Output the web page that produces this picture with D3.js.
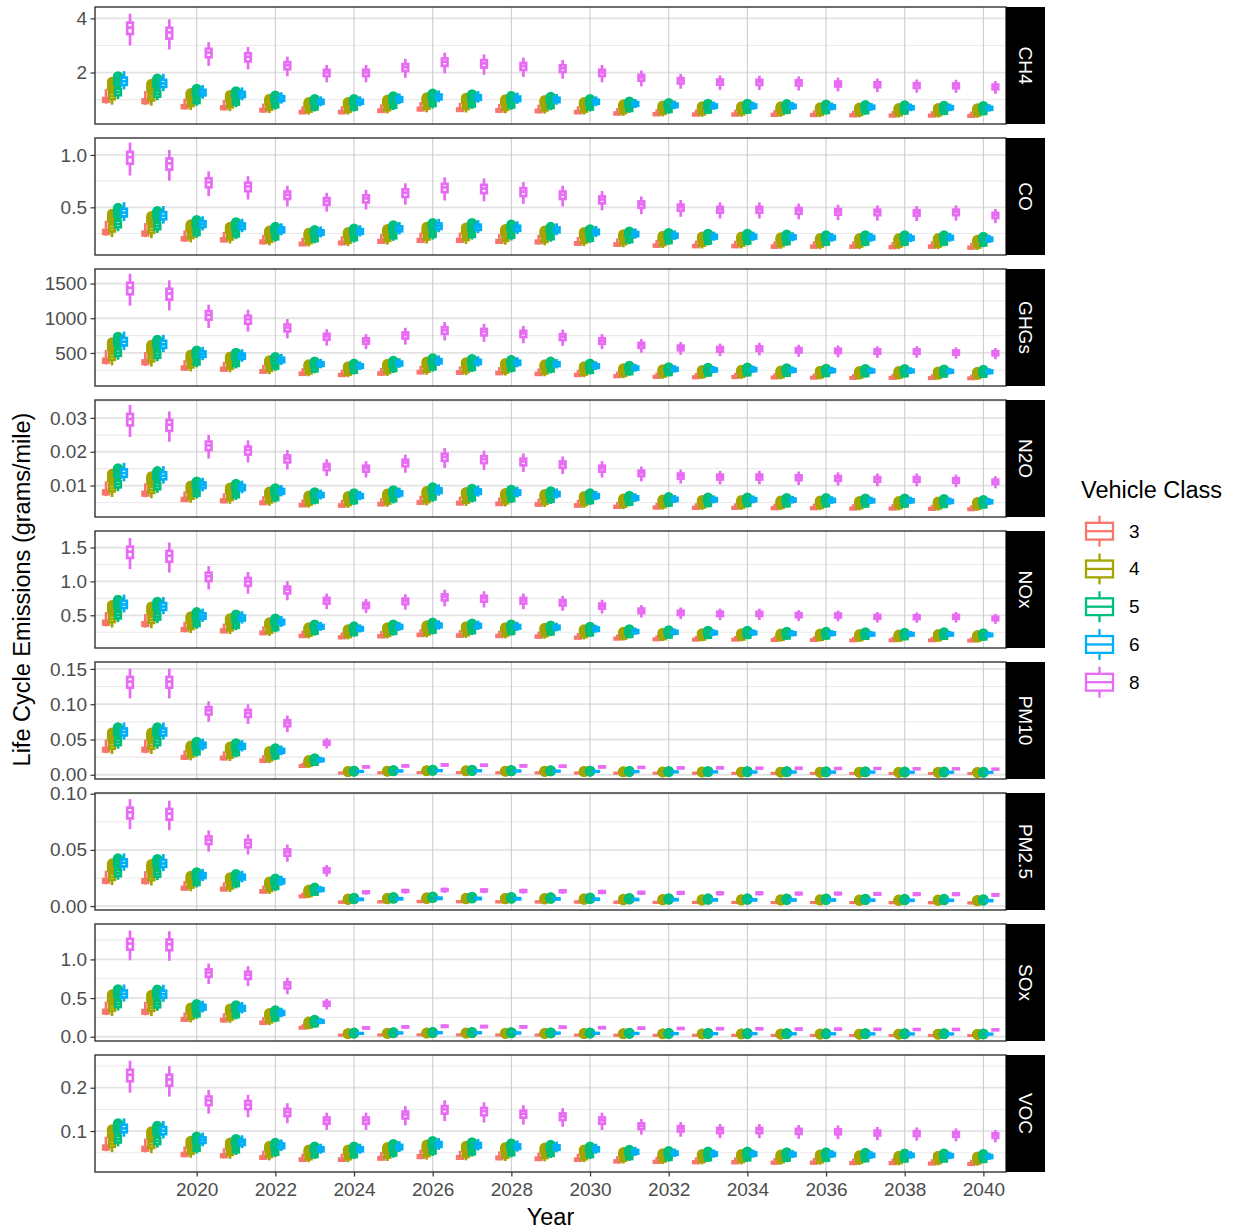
<!DOCTYPE html>
<html><head><meta charset="utf-8">
<script src="https://cdn.jsdelivr.net/npm/d3@7"></script>
<style>
body{margin:0;background:#fff}
text{font-family:"Liberation Sans",Arial,Helvetica,sans-serif}
</style>
</head><body>
<svg id="chart" width="1233" height="1230"></svg>
<script>
// ---------------- DATA ----------------
const years = [2018,2019,2020,2021,2022,2023,2024,2025,2026,2027,2028,2029,2030,2031,2032,2033,2034,2035,2036,2037,2038,2039,2040];
const classes = ["3","4","5","6","8"];
const pollutants = ["CH4","CO","GHGs","N2O","NOx","PM10","PM2.5","SOx","VOC"];
const xTicks = [2020,2022,2024,2026,2028,2030,2032,2034,2036,2038,2040];

// medians per vehicle class per year
const CH4_3 = [0.99,0.94,0.74,0.70,0.61,0.54,0.54,0.59,0.65,0.63,0.60,0.58,0.54,0.49,0.46,0.45,0.45,0.44,0.43,0.42,0.41,0.41,0.40];
const CH4_4 = [1.13,1.08,0.85,0.80,0.70,0.62,0.62,0.68,0.74,0.73,0.69,0.67,0.62,0.56,0.53,0.51,0.51,0.51,0.49,0.48,0.47,0.47,0.46];
const CH4_5 = [1.28,1.22,0.96,0.90,0.79,0.70,0.70,0.77,0.84,0.82,0.78,0.76,0.70,0.64,0.60,0.58,0.58,0.57,0.56,0.55,0.54,0.53,0.52];
const CH4_6 = [1.68,1.60,1.26,1.19,1.04,0.92,0.92,1.01,1.10,1.08,1.03,0.99,0.92,0.84,0.79,0.76,0.76,0.75,0.73,0.72,0.70,0.70,0.68];
const CH4_8 = [3.66,3.48,2.74,2.58,2.27,2.00,2.00,2.20,2.40,2.34,2.24,2.16,2.00,1.82,1.71,1.66,1.65,1.63,1.59,1.56,1.53,1.52,1.48];

const CO_3 = [0.265,0.25,0.20,0.19,0.17,0.15,0.16,0.175,0.185,0.185,0.175,0.17,0.155,0.145,0.135,0.13,0.13,0.125,0.125,0.125,0.12,0.125,0.115];
const CO_4 = [0.30,0.285,0.23,0.215,0.19,0.175,0.18,0.20,0.215,0.21,0.20,0.19,0.18,0.165,0.155,0.15,0.15,0.145,0.14,0.14,0.14,0.14,0.13];
const CO_5 = [0.34,0.32,0.26,0.245,0.215,0.195,0.205,0.225,0.24,0.24,0.23,0.215,0.20,0.185,0.175,0.17,0.17,0.165,0.16,0.16,0.16,0.16,0.15];
const CO_6 = [0.45,0.42,0.34,0.32,0.285,0.26,0.27,0.295,0.32,0.31,0.30,0.285,0.265,0.245,0.23,0.22,0.22,0.215,0.21,0.21,0.205,0.21,0.195];
const CO_8 = [0.98,0.92,0.74,0.70,0.62,0.56,0.585,0.64,0.69,0.68,0.65,0.62,0.575,0.53,0.50,0.48,0.48,0.47,0.46,0.455,0.45,0.455,0.425];

const GHGs_3 = [389,366,283,266,234,200,183,204,224,218,211,198,183,166,156,150,153,147,144,141,141,138,135];
const GHGs_4 = [446,421,325,306,269,229,210,235,257,250,242,228,210,190,179,173,176,168,166,162,162,158,155];
const GHGs_5 = [504,475,367,345,303,259,237,265,290,282,273,257,237,215,202,195,198,190,187,183,183,179,175];
const GHGs_6 = [662,624,483,454,399,340,311,348,381,371,359,338,311,282,265,256,261,250,246,241,241,235,230];
const GHGs_8 = [1440,1357,1049,986,867,739,677,757,829,806,781,734,677,614,577,557,567,543,534,524,524,510,500];

const N2O_3 = [0.0080,0.0076,0.0059,0.0055,0.0049,0.0042,0.0041,0.0045,0.0050,0.0048,0.0046,0.0044,0.0041,0.0037,0.0035,0.0034,0.0034,0.0033,0.0033,0.0032,0.0032,0.0031,0.0030];
const N2O_4 = [0.0092,0.0087,0.0068,0.0064,0.0056,0.0048,0.0047,0.0052,0.0057,0.0055,0.0053,0.0051,0.0047,0.0042,0.0040,0.0039,0.0039,0.0038,0.0038,0.0037,0.0037,0.0036,0.0035];
const N2O_5 = [0.0104,0.0098,0.0077,0.0072,0.0063,0.0055,0.0053,0.0059,0.0065,0.0062,0.0060,0.0057,0.0053,0.0048,0.0045,0.0044,0.0044,0.0043,0.0043,0.0042,0.0042,0.0041,0.0039];
const N2O_6 = [0.0137,0.0129,0.0101,0.0094,0.0083,0.0072,0.0069,0.0077,0.0085,0.0082,0.0079,0.0075,0.0069,0.0063,0.0059,0.0058,0.0058,0.0057,0.0056,0.0055,0.0055,0.0053,0.0052];
const N2O_8 = [0.0297,0.0280,0.0219,0.0205,0.0180,0.0156,0.0151,0.0168,0.0185,0.0178,0.0171,0.0163,0.0151,0.0137,0.0129,0.0126,0.0126,0.0124,0.0122,0.0119,0.0119,0.0116,0.0112];

const NOx_3 = [0.39,0.37,0.29,0.27,0.24,0.195,0.175,0.19,0.21,0.20,0.195,0.185,0.17,0.155,0.145,0.14,0.14,0.135,0.135,0.13,0.13,0.13,0.125];
const NOx_4 = [0.445,0.43,0.33,0.31,0.27,0.22,0.20,0.22,0.24,0.23,0.22,0.215,0.20,0.175,0.165,0.16,0.16,0.155,0.155,0.15,0.145,0.15,0.14];
const NOx_5 = [0.50,0.48,0.375,0.35,0.31,0.25,0.23,0.25,0.27,0.26,0.25,0.24,0.225,0.20,0.19,0.185,0.185,0.175,0.175,0.17,0.165,0.17,0.16];
const NOx_6 = [0.66,0.63,0.49,0.46,0.40,0.33,0.30,0.33,0.35,0.345,0.33,0.32,0.295,0.26,0.25,0.24,0.24,0.23,0.23,0.22,0.22,0.22,0.21];
const NOx_8 = [1.44,1.38,1.075,1.0,0.88,0.72,0.65,0.71,0.77,0.75,0.72,0.69,0.64,0.57,0.54,0.525,0.525,0.505,0.5,0.48,0.475,0.48,0.456];

const PM10_3 = [0.0356,0.0356,0.0247,0.0237,0.0199,0.0123,0.0025,0.0028,0.0031,0.0030,0.0028,0.0027,0.0025,0.0023,0.0022,0.0022,0.0021,0.0021,0.0020,0.0020,0.0019,0.0019,0.0018];
const PM10_4 = [0.0409,0.0409,0.0283,0.0272,0.0228,0.0141,0.0034,0.0038,0.0042,0.0041,0.0038,0.0037,0.0034,0.0031,0.0029,0.0029,0.0028,0.0028,0.0027,0.0027,0.0026,0.0026,0.0024];
const PM10_5 = [0.0462,0.0462,0.0320,0.0307,0.0258,0.0159,0.0038,0.0043,0.0048,0.0046,0.0043,0.0041,0.0038,0.0035,0.0033,0.0033,0.0032,0.0032,0.0031,0.0031,0.0029,0.0029,0.0027];
const PM10_6 = [0.0607,0.0607,0.0420,0.0403,0.0339,0.0209,0.0047,0.0053,0.0059,0.0057,0.0053,0.0051,0.0047,0.0044,0.0041,0.0041,0.0039,0.0039,0.0038,0.0038,0.0036,0.0036,0.0034];
const PM10_8 = [0.132,0.132,0.0913,0.0876,0.0736,0.0455,0.0112,0.0126,0.0140,0.0136,0.0126,0.0122,0.0112,0.0104,0.0098,0.0098,0.0094,0.0094,0.0090,0.0090,0.0085,0.0085,0.0080];

const PM25_3 = [0.0225,0.0222,0.0159,0.0151,0.0130,0.0086,0.0035,0.0038,0.0040,0.0039,0.0038,0.0037,0.0036,0.0034,0.0033,0.0032,0.0032,0.0031,0.0031,0.0031,0.0030,0.0030,0.0028];
const PM25_4 = [0.0259,0.0255,0.0183,0.0174,0.0149,0.0099,0.0045,0.0049,0.0052,0.0050,0.0049,0.0048,0.0046,0.0043,0.0042,0.0041,0.0041,0.0040,0.0040,0.0039,0.0039,0.0039,0.0036];
const PM25_5 = [0.0292,0.0288,0.0207,0.0196,0.0168,0.0112,0.0050,0.0054,0.0058,0.0056,0.0054,0.0053,0.0051,0.0048,0.0047,0.0046,0.0046,0.0045,0.0045,0.0044,0.0043,0.0043,0.0040];
const PM25_6 = [0.0384,0.0379,0.0271,0.0258,0.0221,0.0147,0.0060,0.0065,0.0069,0.0067,0.0065,0.0064,0.0061,0.0058,0.0057,0.0055,0.0055,0.0054,0.0054,0.0052,0.0051,0.0051,0.0048];
const PM25_8 = [0.0834,0.0823,0.0590,0.0560,0.0480,0.0320,0.0124,0.0135,0.0144,0.0140,0.0135,0.0133,0.0127,0.0120,0.0118,0.0115,0.0115,0.0112,0.0112,0.0109,0.0107,0.0107,0.0100];

const SOx_3 = [0.325,0.323,0.224,0.216,0.181,0.116,0.021,0.023,0.025,0.024,0.023,0.022,0.021,0.020,0.019,0.019,0.019,0.018,0.018,0.017,0.017,0.017,0.016];
const SOx_4 = [0.374,0.371,0.257,0.248,0.208,0.133,0.030,0.033,0.036,0.035,0.033,0.032,0.031,0.029,0.028,0.027,0.027,0.026,0.026,0.025,0.025,0.025,0.023];
const SOx_5 = [0.422,0.419,0.290,0.280,0.235,0.150,0.035,0.038,0.041,0.040,0.038,0.037,0.035,0.034,0.032,0.032,0.031,0.030,0.030,0.029,0.029,0.029,0.027];
const SOx_6 = [0.554,0.551,0.382,0.368,0.308,0.198,0.044,0.049,0.052,0.051,0.049,0.047,0.045,0.043,0.041,0.040,0.040,0.038,0.038,0.037,0.036,0.036,0.034];
const SOx_8 = [1.205,1.197,0.83,0.80,0.67,0.43,0.115,0.128,0.137,0.133,0.128,0.124,0.118,0.112,0.108,0.105,0.104,0.100,0.100,0.097,0.095,0.095,0.090];

const VOC_3 = [0.062,0.059,0.046,0.043,0.039,0.034,0.034,0.037,0.041,0.039,0.038,0.036,0.034,0.030,0.029,0.028,0.028,0.027,0.027,0.026,0.026,0.025,0.024];
const VOC_4 = [0.071,0.068,0.053,0.050,0.045,0.039,0.039,0.043,0.047,0.045,0.043,0.042,0.039,0.035,0.033,0.032,0.032,0.031,0.031,0.030,0.029,0.029,0.028];
const VOC_5 = [0.081,0.077,0.060,0.056,0.050,0.044,0.044,0.048,0.053,0.051,0.049,0.047,0.044,0.039,0.037,0.036,0.036,0.035,0.035,0.034,0.033,0.033,0.032];
const VOC_6 = [0.106,0.101,0.079,0.074,0.066,0.058,0.058,0.063,0.069,0.067,0.064,0.062,0.058,0.052,0.049,0.047,0.047,0.046,0.046,0.044,0.044,0.043,0.041];
const VOC_8 = [0.230,0.219,0.171,0.161,0.144,0.125,0.125,0.138,0.150,0.146,0.140,0.134,0.125,0.112,0.106,0.102,0.102,0.100,0.099,0.096,0.095,0.093,0.090];

// box shape per class, relative to the median: [lower whisker, Q1, Q3, upper whisker]
const shape_3 = [0.86,0.93,1.07,1.40];
const shape_4 = [0.72,0.90,1.10,1.20];
const shape_5 = [0.80,0.91,1.09,1.20];
const shape_6 = [0.82,0.92,1.08,1.22];
const shape_8 = [0.82,0.935,1.05,1.14];
// outliers (relative to the median) for classes 4 and 5
const outl_3 = [];
const outl_4 = [1.26,1.33,1.40,1.46];
const outl_5 = [1.25,1.32,1.39,1.45];
const outl_6 = [];
const outl_8 = [];

// y axis ticks and labels per panel
const ticks_CH4 = [2,4],             labels_CH4 = ["2","4"];
const ticks_CO = [0.5,1.0],          labels_CO = ["0.5","1.0"];
const ticks_GHGs = [500,1000,1500],  labels_GHGs = ["500","1000","1500"];
const ticks_N2O = [0.01,0.02,0.03],  labels_N2O = ["0.01","0.02","0.03"];
const ticks_NOx = [0.5,1.0,1.5],     labels_NOx = ["0.5","1.0","1.5"];
const ticks_PM10 = [0,0.05,0.10,0.15], labels_PM10 = ["0.00","0.05","0.10","0.15"];
const ticks_PM25 = [0,0.05,0.10],    labels_PM25 = ["0.00","0.05","0.10"];
const ticks_SOx = [0,0.5,1.0],       labels_SOx = ["0.0","0.5","1.0"];
const ticks_VOC = [0.1,0.2],         labels_VOC = ["0.1","0.2"];
// y domains (axis limits) per panel
const dom_CH4 = [0.10,4.42], dom_CO = [0.045,1.162], dom_GHGs = [24,1710], dom_N2O = [0.0007,0.0353],
      dom_NOx = [0.017,1.744], dom_PM10 = [-0.006,0.1598], dom_PM25 = [-0.0035,0.1006],
      dom_SOx = [-0.055,1.458], dom_VOC = [0.0055,0.2755];

// ---------------- assemble ----------------
const series = [
  [CH4_3,CH4_4,CH4_5,CH4_6,CH4_8],
  [CO_3,CO_4,CO_5,CO_6,CO_8],
  [GHGs_3,GHGs_4,GHGs_5,GHGs_6,GHGs_8],
  [N2O_3,N2O_4,N2O_5,N2O_6,N2O_8],
  [NOx_3,NOx_4,NOx_5,NOx_6,NOx_8],
  [PM10_3,PM10_4,PM10_5,PM10_6,PM10_8],
  [PM25_3,PM25_4,PM25_5,PM25_6,PM25_8],
  [SOx_3,SOx_4,SOx_5,SOx_6,SOx_8],
  [VOC_3,VOC_4,VOC_5,VOC_6,VOC_8]
];
const shapes = [shape_3,shape_4,shape_5,shape_6,shape_8];
const outls = [outl_3,outl_4,outl_5,outl_6,outl_8];
const yTicks = [ticks_CH4,ticks_CO,ticks_GHGs,ticks_N2O,ticks_NOx,ticks_PM10,ticks_PM25,ticks_SOx,ticks_VOC];
const yLabels = [labels_CH4,labels_CO,labels_GHGs,labels_N2O,labels_NOx,labels_PM10,labels_PM25,labels_SOx,labels_VOC];
const yDoms = [dom_CH4,dom_CO,dom_GHGs,dom_N2O,dom_NOx,dom_PM10,dom_PM25,dom_SOx,dom_VOC];

// ---------------- layout ----------------
const colors = ["#F8766D","#A3A500","#00BF7D","#00B0F6","#E76BF3"];
const color = d3.scaleOrdinal().domain(classes).range(colors);
const panelL = 95, panelR = 1006, stripW = 39;
const panelTop0 = 7, panelH = 117, panelStep = 131;
const fontTick = 19, fontTitle = 23.5;

const svg = d3.select("#chart");
svg.append("rect").attr("width",1233).attr("height",1230).attr("fill","#fff");

const x = d3.scaleLinear().domain([2017.415, 2040.575]).range([panelL, panelR]);
const dodge = d3.scaleBand().domain(classes).range([-15, 15]);
const boxW = dodge.bandwidth() - 0.4;
const lw = 2.7;

pollutants.forEach((p, pi) => {
  const top = panelTop0 + pi * panelStep;
  const y = d3.scaleLinear().domain(yDoms[pi]).range([top + panelH, top]);
  const g = svg.append("g");
  const dom = yDoms[pi];
  const t = yTicks[pi];
  const step = t[1] - t[0];
  const minors = [];
  for (let v = t[0] - step/2; v <= dom[1]; v += step) if (v >= dom[0]) minors.push(v);
  g.selectAll(".ymin").data(minors).join("line")
    .attr("x1", panelL).attr("x2", panelR).attr("y1", d => y(d)).attr("y2", d => y(d))
    .attr("stroke", "#ebebeb").attr("stroke-width", 1.1);
  g.selectAll(".ymaj").data(t).join("line")
    .attr("x1", panelL).attr("x2", panelR).attr("y1", d => y(d)).attr("y2", d => y(d))
    .attr("stroke", "#e3e3e3").attr("stroke-width", 1.8);
  g.selectAll(".xmaj").data(xTicks).join("line")
    .attr("x1", d => x(d)).attr("x2", d => x(d)).attr("y1", top).attr("y2", top + panelH)
    .attr("stroke", "#cdcdcd").attr("stroke-width", 1.1);

  const clipId = "clip" + pi;
  svg.append("clipPath").attr("id", clipId).append("rect")
    .attr("x", panelL).attr("y", top).attr("width", panelR - panelL).attr("height", panelH);
  const marks = g.append("g").attr("clip-path", `url(#${clipId})`);
  years.forEach((yr, yi) => {
    classes.forEach((c, ci) => {
      const med = series[pi][ci][yi];
      const s = shapes[ci].map(f => f * med);
      const cx = x(yr) + dodge(c) + dodge.bandwidth() / 2;
      const col = color(c);
      const bg = marks.append("g");
      bg.selectAll("circle").data(outls[ci].map(f => f * med)).join("circle")
        .attr("cx", cx).attr("cy", d => y(d)).attr("r", 5.2).attr("fill", col);
      bg.append("line").attr("x1", cx).attr("x2", cx).attr("y1", y(s[0])).attr("y2", y(s[1]))
        .attr("stroke", col).attr("stroke-width", lw);
      bg.append("line").attr("x1", cx).attr("x2", cx).attr("y1", y(s[2])).attr("y2", y(s[3]))
        .attr("stroke", col).attr("stroke-width", lw);
      bg.append("rect").attr("x", cx - boxW / 2).attr("width", boxW)
        .attr("y", y(s[2])).attr("height", Math.max(0, y(s[1]) - y(s[2])))
        .attr("fill", "#fff").attr("stroke", col).attr("stroke-width", lw);
      bg.append("line").attr("x1", cx - boxW / 2).attr("x2", cx + boxW / 2)
        .attr("y1", y(med)).attr("y2", y(med)).attr("stroke", col).attr("stroke-width", lw);
    });
  });

  g.append("rect").attr("x", panelL).attr("y", top).attr("width", panelR - panelL).attr("height", panelH)
    .attr("fill", "none").attr("stroke", "#333").attr("stroke-width", 1.4);
  g.append("rect").attr("x", panelR).attr("y", top).attr("width", stripW).attr("height", panelH).attr("fill", "#000");
  g.append("text").attr("transform", `translate(${panelR + stripW / 2},${top + panelH / 2}) rotate(90)`)
    .attr("text-anchor", "middle").attr("dominant-baseline", "central")
    .attr("fill", "#fff").attr("font-size", fontTick).text(p);

  const ax = g.append("g").attr("transform", `translate(${panelL},0)`)
    .call(d3.axisLeft(y).tickValues(t).tickFormat((d, i) => yLabels[pi][i]).tickSize(4.5).tickPadding(3.5));
  ax.select(".domain").remove();
  ax.selectAll(".tick line").attr("stroke", "#333").attr("stroke-width", 1.2);
  ax.selectAll(".tick text").attr("fill", "#4d4d4d").attr("font-size", fontTick)
    .attr("font-family", '"Liberation Sans",Arial,sans-serif');

  if (pi === pollutants.length - 1) {
    const bx = g.append("g").attr("transform", `translate(0,${top + panelH})`)
      .call(d3.axisBottom(x).tickValues(xTicks).tickFormat(d3.format("d")).tickSize(4.5).tickPadding(6.5));
    bx.select(".domain").remove();
    bx.selectAll(".tick line").attr("stroke", "#333").attr("stroke-width", 1.2);
    bx.selectAll(".tick text").attr("fill", "#4d4d4d").attr("font-size", fontTick)
      .attr("font-family", '"Liberation Sans",Arial,sans-serif');
  }
});

svg.append("text").attr("x", (panelL + panelR) / 2).attr("y", 1225)
  .attr("text-anchor", "middle").attr("font-size", fontTitle).attr("fill", "#000").text("Year");
const yMid = panelTop0 + (8 * panelStep + panelH) / 2;
svg.append("text").attr("transform", `translate(30,${yMid}) rotate(-90)`)
  .attr("text-anchor", "middle").attr("font-size", fontTitle).attr("fill", "#000")
  .text("Life Cycle Emissions (grams/mile)");

const lg = svg.append("g");
lg.append("text").attr("x", 1081).attr("y", 498).attr("font-size", fontTitle).attr("fill", "#000").text("Vehicle Class");
const keyY = d3.scalePoint().domain(classes).range([531.2, 682.2]);
classes.forEach(c => {
  const cy = keyY(c), col = color(c), kx = 1099.5;
  lg.append("line").attr("x1", kx).attr("x2", kx).attr("y1", cy - 15.5).attr("y2", cy + 15.5)
    .attr("stroke", col).attr("stroke-width", 2.3);
  lg.append("rect").attr("x", 1086).attr("y", cy - 8.4).attr("width", 27).attr("height", 16.8)
    .attr("fill", "#fff").attr("stroke", col).attr("stroke-width", 2.3);
  lg.append("line").attr("x1", 1086).attr("x2", 1113).attr("y1", cy).attr("y2", cy)
    .attr("stroke", col).attr("stroke-width", 2.3);
  lg.append("text").attr("x", 1129).attr("y", cy).attr("dominant-baseline", "central")
    .attr("font-size", fontTick).attr("fill", "#000").text(c);
});
</script>
</body></html>
